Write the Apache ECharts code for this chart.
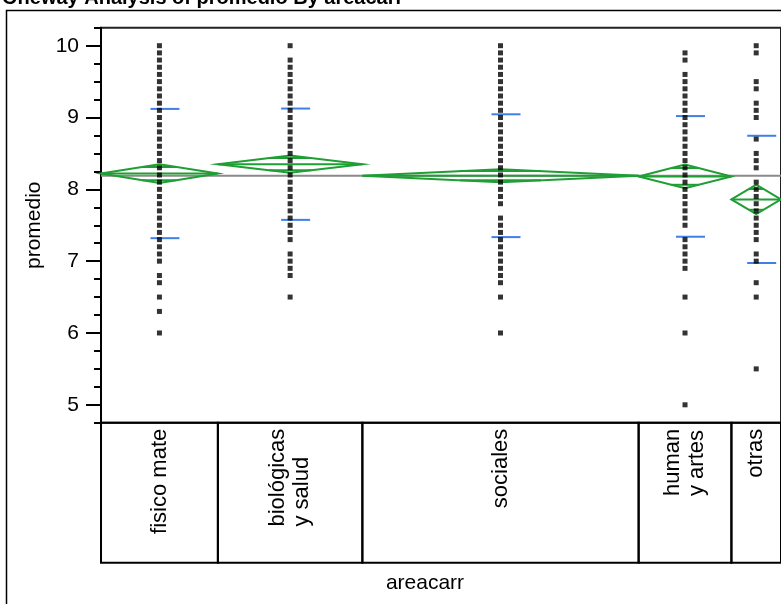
<!DOCTYPE html>
<html>
<head>
<meta charset="utf-8">
<script src="https://cdn.jsdelivr.net/npm/echarts@6/dist/echarts.min.js"></script>
<style>
  html, body { margin: 0; padding: 0; background: #fff; }
  #chart { width: 781px; height: 604px; }
</style>
</head>
<body>
<div id="chart"></div>
<script>
// Groups of areacarr, with their sample sizes (box widths are proportional to n)
const groups = ['fisico mate', 'biológicas\ny salud', 'sociales', 'human\ny artes', 'otras'];
const groupN = [165, 204, 390, 131, 70];

// Group summaries: mean, 95% CI half-width, standard deviation
const groupMeans = [8.22, 8.35, 8.19, 8.18, 7.86];
const groupCI = [0.13, 0.12, 0.09, 0.165, 0.205];
const groupSD = [0.90, 0.775, 0.855, 0.84, 0.886];
const grandMean = 8.19;

// Distinct promedio values observed in each group
const scoresFisico = [10.0, 9.9, 9.8, 9.7, 9.6, 9.5, 9.4, 9.3, 9.2, 9.1, 9.0, 8.9, 8.8, 8.7, 8.6, 8.5, 8.4, 8.3, 8.2, 8.1, 8.0, 7.9, 7.8, 7.7, 7.6, 7.5, 7.4, 7.3, 7.2, 7.1, 7.0, 6.8, 6.7, 6.5, 6.3, 6.0];
const scoresBiologicas = [10.0, 9.8, 9.7, 9.6, 9.5, 9.4, 9.3, 9.2, 9.1, 9.0, 8.9, 8.8, 8.7, 8.6, 8.5, 8.4, 8.3, 8.2, 8.1, 8.0, 7.9, 7.8, 7.7, 7.6, 7.5, 7.4, 7.3, 7.1, 7.0, 6.9, 6.8, 6.5];
const scoresSociales = [10.0, 9.9, 9.8, 9.7, 9.6, 9.5, 9.4, 9.3, 9.2, 9.1, 9.0, 8.9, 8.8, 8.7, 8.6, 8.5, 8.4, 8.3, 8.2, 8.1, 8.0, 7.9, 7.8, 7.6, 7.5, 7.4, 7.3, 7.2, 7.1, 7.0, 6.9, 6.8, 6.7, 6.5, 6.0];
const scoresHuman = [9.9, 9.8, 9.6, 9.5, 9.4, 9.3, 9.2, 9.1, 9.0, 8.9, 8.8, 8.7, 8.6, 8.5, 8.4, 8.3, 8.2, 8.1, 8.0, 7.9, 7.8, 7.7, 7.6, 7.5, 7.3, 7.2, 7.1, 7.0, 6.9, 6.5, 6.0, 5.0];
const scoresOtras = [10.0, 9.9, 9.5, 9.4, 9.2, 9.1, 9.0, 8.7, 8.5, 8.4, 8.3, 8.1, 8.0, 7.9, 7.8, 7.7, 7.6, 7.5, 7.4, 7.3, 7.1, 7.0, 6.7, 6.5, 5.5];

// promedio axis
const yMin = 4.75;
const yMax = 10.25;
const yMajorTicks = [5, 6, 7, 8, 9, 10];
const yMinorTicks = [4.75, 5.25, 5.5, 5.75, 6.25, 6.5, 6.75, 7.25, 7.5, 7.75, 8.25, 8.5, 8.75, 9.25, 9.5, 9.75, 10.25];

const FONT = '"Liberation Sans", Arial, Helvetica, sans-serif';
const GREEN = '#1f9e34';
const BLUE = '#3f7fe6';

const scores = [scoresFisico, scoresBiologicas, scoresSociales, scoresHuman, scoresOtras];
const totalN = groupN.reduce((a, b) => a + b, 0);
const bounds = [];
let acc = 0;
groupN.forEach(n => { bounds.push([acc, acc + n]); acc += n; });
const centers = bounds.map(b => (b[0] + b[1]) / 2);

const dotData = [];
scores.forEach((arr, i) => arr.forEach(v => dotData.push([centers[i], v])));

const groupRows = groups.map((g, i) => [bounds[i][0], bounds[i][1], groupMeans[i], groupCI[i], groupSD[i], i]);

// Means diamonds with overlap marks
function renderDiamond(params, api) {
  const x0 = api.value(0), x1 = api.value(1), m = api.value(2), ci = api.value(3);
  const xc = (x0 + x1) / 2;
  const L = api.coord([x0, m]), R = api.coord([x1, m]);
  const T = api.coord([xc, m + ci]), B = api.coord([xc, m - ci]);
  const ov = ci / Math.SQRT2;
  const hw = (R[0] - L[0]) / 2 * (1 - 1 / Math.SQRT2);
  const yo1 = api.coord([xc, m + ov])[1], yo2 = api.coord([xc, m - ov])[1];
  const style = { stroke: GREEN, lineWidth: 2, fill: null };
  return {
    type: 'group',
    children: [
      { type: 'polygon', shape: { points: [L, T, R, B] }, style },
      { type: 'line', shape: { x1: L[0], y1: L[1], x2: R[0], y2: R[1] }, style },
      { type: 'line', shape: { x1: T[0] - hw, y1: yo1, x2: T[0] + hw, y2: yo1 }, style },
      { type: 'line', shape: { x1: T[0] - hw, y1: yo2, x2: T[0] + hw, y2: yo2 }, style }
    ]
  };
}

// Standard deviation marks at mean ± sd
function renderSD(params, api) {
  const xc = (api.value(0) + api.value(1)) / 2, m = api.value(2), sd = api.value(4);
  const p1 = api.coord([xc, m + sd]), p2 = api.coord([xc, m - sd]);
  const style = { stroke: BLUE, lineWidth: 2 };
  return {
    type: 'group',
    children: [
      { type: 'line', shape: { x1: p1[0] - 9, y1: p1[1], x2: p1[0] + 20, y2: p1[1] }, style },
      { type: 'line', shape: { x1: p2[0] - 9, y1: p2[1], x2: p2[0] + 20, y2: p2[1] }, style }
    ]
  };
}

// Category boxes under the plot, one per group, with rotated names
function renderBox(params, api) {
  const a = api.coord([api.value(0), yMin]);
  const b = api.coord([api.value(1), yMin]);
  const top = a[1];
  const h = 140;
  const lines = groups[api.value(5)].split('\n');
  const text = lines.map(s => '{l|' + s + '}').join('\n');
  return {
    type: 'group',
    children: [
      { type: 'rect', shape: { x: a[0], y: top, width: b[0] - a[0], height: h },
        style: { fill: null, stroke: '#000', lineWidth: 2 } },
      { type: 'text', x: (a[0] + b[0]) / 2, y: top + 6, rotation: Math.PI / 2,
        style: {
          text: text, fill: '#000', align: 'right', verticalAlign: 'middle',
          fontSize: 22, fontFamily: FONT,
          rich: { l: { align: 'left', fontSize: 22, fontFamily: FONT, lineHeight: 24, fill: '#000' } }
        } }
    ]
  };
}

const chart = echarts.init(document.getElementById('chart'));
chart.setOption({
  animation: false,
  backgroundColor: '#fff',
  graphic: [
    { type: 'rect', shape: { x: 6.5, y: 10.5, width: 900, height: 900 },
      style: { fill: null, stroke: '#000', lineWidth: 1.5 }, z: 0 },
    { type: 'text', x: 2, y: 8,
      style: { text: 'Oneway Analysis of promedio By areacarr', fill: '#000',
               font: 'bold 20px ' + FONT, verticalAlign: 'bottom' } }
  ],
  grid: {
    left: 101, top: 27.75, width: 682, height: 395,
    show: true, borderColor: '#222', borderWidth: 2, backgroundColor: 'transparent'
  },
  xAxis: {
    type: 'value', min: 0, max: totalN,
    axisLine: { show: false }, axisTick: { show: false }, axisLabel: { show: false },
    splitLine: { show: false },
    name: 'areacarr', nameLocation: 'middle', nameGap: 150,
    nameTextStyle: { fontSize: 21, fontFamily: FONT, color: '#000', padding: [0, 32, 0, 0] }
  },
  yAxis: [
    {
      type: 'value', min: yMin, max: yMax, position: 'left',
      axisLine: { show: true, lineStyle: { color: '#000', width: 2 } },
      axisTick: { show: true, length: 15, customValues: yMajorTicks, lineStyle: { color: '#000', width: 2 } },
      axisLabel: { customValues: yMajorTicks, fontSize: 21, fontFamily: FONT, color: '#000', margin: 22 },
      splitLine: { show: false },
      name: 'promedio', nameLocation: 'middle', nameGap: 52, nameRotate: 90,
      nameTextStyle: { fontSize: 21, fontFamily: FONT, color: '#000' }
    },
    {
      type: 'value', min: yMin, max: yMax, position: 'left', offset: 0,
      axisLine: { show: false },
      axisTick: { show: true, length: 7, customValues: yMinorTicks, lineStyle: { color: '#000', width: 2 } },
      axisLabel: { show: false },
      splitLine: { show: false }
    }
  ],
  series: [
    {
      type: 'line', silent: true, symbol: 'none', z: 1,
      data: [[0, grandMean], [totalN, grandMean]],
      lineStyle: { color: '#8a8a8a', width: 2 }
    },
    { type: 'custom', silent: true, z: 2, renderItem: renderDiamond, data: groupRows },
    { type: 'custom', silent: true, z: 3, renderItem: renderSD, data: groupRows },
    {
      type: 'scatter', silent: true, z: 4, symbol: 'rect', symbolSize: 5,
      itemStyle: { color: '#000' }, data: dotData
    },
    { type: 'custom', silent: true, z: 5, clip: false, renderItem: renderBox, data: groupRows }
  ]
});
</script>
</body>
</html>
